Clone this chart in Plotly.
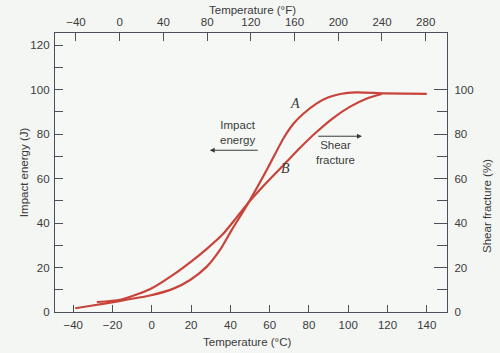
import plotly.graph_objects as go

# Curve A: impact energy (J) vs temperature (°C)
temp_a = [-39, -31, -16, -1, 11, 19.5, 28, 34.7, 40.7, 48, 58.5, 67, 72, 77, 84, 90, 96, 104, 118, 140]
energy_a = [1.7, 2.8, 5.0, 7.4, 10.5, 14.4, 20.4, 27.9, 36.9, 47.3, 63.8, 78.0, 84.5, 89.0, 93.8, 96.5, 98.0, 98.7, 98.3, 98.0]

# Curve B: shear fracture (%) vs temperature (°C)
temp_b = [-28, -16, -1, 11, 19.5, 28, 36, 43, 50, 58, 67, 75.5, 84, 92.5, 101, 109.5, 117]
shear_b = [4.5, 5.5, 10.2, 16.8, 22.3, 28.4, 34.8, 42.3, 50.0, 57.8, 66.0, 73.8, 81.0, 87.3, 92.3, 96.0, 98.0]

c_ticks = [-40, -20, 0, 20, 40, 60, 80, 100, 120, 140]
f_ticks = [-40, 0, 40, 80, 120, 160, 200, 240, 280]
left_ticks = [0, 20, 40, 60, 80, 100, 120]
right_ticks = [0, 20, 40, 60, 80, 100]

RED = "#c8433a"
AX = "#4a4f5a"
TXT = "#3a3a3a"
FONT = "Liberation Sans"

fig = go.Figure()
fig.add_trace(go.Scatter(x=temp_a, y=energy_a, mode="lines",
                         line=dict(color=RED, width=2.2, shape="spline", smoothing=0.6),
                         showlegend=False, hoverinfo="skip"))
fig.add_trace(go.Scatter(x=temp_b, y=shear_b, mode="lines",
                         line=dict(color=RED, width=2.2, shape="spline", smoothing=0.6),
                         showlegend=False, hoverinfo="skip"))
# invisible traces to activate secondary axes
fig.add_trace(go.Scatter(x=[0], y=[0], xaxis="x2", yaxis="y", mode="markers",
                         marker=dict(opacity=0), showlegend=False, hoverinfo="skip"))
fig.add_trace(go.Scatter(x=[0], y=[0], xaxis="x", yaxis="y2", mode="markers",
                         marker=dict(opacity=0), showlegend=False, hoverinfo="skip"))

tickfont = dict(family=FONT, size=11.5, color=TXT)
fig.update_layout(
    width=500, height=353,
    margin=dict(l=55, r=53, t=33, b=41),
    paper_bgcolor="#f4f6f4", plot_bgcolor="#f6f8f6",
    font=dict(family=FONT, color=TXT, size=11),
    xaxis=dict(range=[-49.3, 150.3], tickvals=c_ticks, ticktext=[str(v).replace("-", "\u2212") for v in c_ticks],
               ticks="inside", ticklen=7, tickcolor=AX, tickwidth=1,
               showline=True, linecolor=AX, linewidth=1.3, mirror=False,
               showgrid=False, zeroline=False, tickfont=tickfont, ticklabelstandoff=2),
    xaxis2=dict(range=[-59.2, 299.5], tickvals=f_ticks, ticktext=[str(v).replace("-", "\u2212") for v in f_ticks],
                overlaying="x", side="top", anchor="y",
                ticks="inside", ticklen=8, tickcolor=AX, tickwidth=1,
                showline=True, linecolor=AX, linewidth=1.3,
                showgrid=False, zeroline=False, tickfont=tickfont, ticklabelstandoff=1),
    yaxis=dict(range=[0, 125.4], tickvals=left_ticks,
               ticks="inside", ticklen=8, tickcolor=AX, tickwidth=1,
               minor=dict(dtick=10, tick0=0, ticks="inside", ticklen=8, tickcolor=AX, tickwidth=1),
               showline=True, linecolor=AX, linewidth=1.3,
               showgrid=False, zeroline=False, tickfont=tickfont, ticklabelstandoff=2),
    yaxis2=dict(range=[0, 125.4], tickvals=right_ticks,
                overlaying="y", side="right", anchor="x",
                ticks="inside", ticklen=13, tickcolor=AX, tickwidth=1,
                minor=dict(tickvals=[10, 30, 50, 70, 90], ticks="inside", ticklen=10, tickcolor=AX, tickwidth=1),
                showline=True, linecolor=AX, linewidth=1.3,
                showgrid=False, zeroline=False, tickfont=tickfont, ticklabelstandoff=4),
)

ann_font = dict(family=FONT, size=11.5, color=TXT)
annotations = [
    # axis titles
    dict(text="Temperature (°F)", x=0.503, y=1.084, xref="paper", yref="paper",
         xanchor="center", yanchor="middle", showarrow=False, font=ann_font),
    dict(text="Temperature (°C)", x=0.49, y=-0.1075, xref="paper", yref="paper",
         xanchor="center", yanchor="middle", showarrow=False, font=ann_font),
    dict(text="Impact energy (J)", x=-0.08, y=0.5, xref="paper", yref="paper", textangle=-90,
         xanchor="center", yanchor="middle", showarrow=False, font=ann_font),
    dict(text="Shear fracture (%)", x=1.102, y=0.38, xref="paper", yref="paper", textangle=-90,
         xanchor="center", yanchor="middle", showarrow=False, font=ann_font),
    # curve labels
    dict(text="<i>A</i>", x=72.9, y=93.9, xref="x", yref="y", showarrow=False,
         font=dict(family="Liberation Serif", size=14, color=TXT)),
    dict(text="<i>B</i>", x=68.3, y=64.7, xref="x", yref="y", showarrow=False,
         font=dict(family="Liberation Serif", size=14, color=TXT)),
    dict(text="Impact<br>energy", x=43.9, y=80.5, xref="x", yref="y", showarrow=False, font=ann_font),
    dict(text="Shear<br>fracture", x=93.3, y=71.5, xref="x", yref="y", showarrow=False, font=ann_font),
    # arrows
    dict(x=29.5, y=72.7, ax=54.7, ay=72.7, xref="x", yref="y", axref="x", ayref="y", text="",
         showarrow=True, arrowhead=2, arrowsize=1, arrowwidth=1, arrowcolor=TXT),
    dict(x=107, y=79.0, ax=84.0, ay=79.0, xref="x", yref="y", axref="x", ayref="y", text="",
         showarrow=True, arrowhead=2, arrowsize=1, arrowwidth=1, arrowcolor=TXT),
]
fig.update_layout(annotations=annotations)

fig.write_html("out.html")
